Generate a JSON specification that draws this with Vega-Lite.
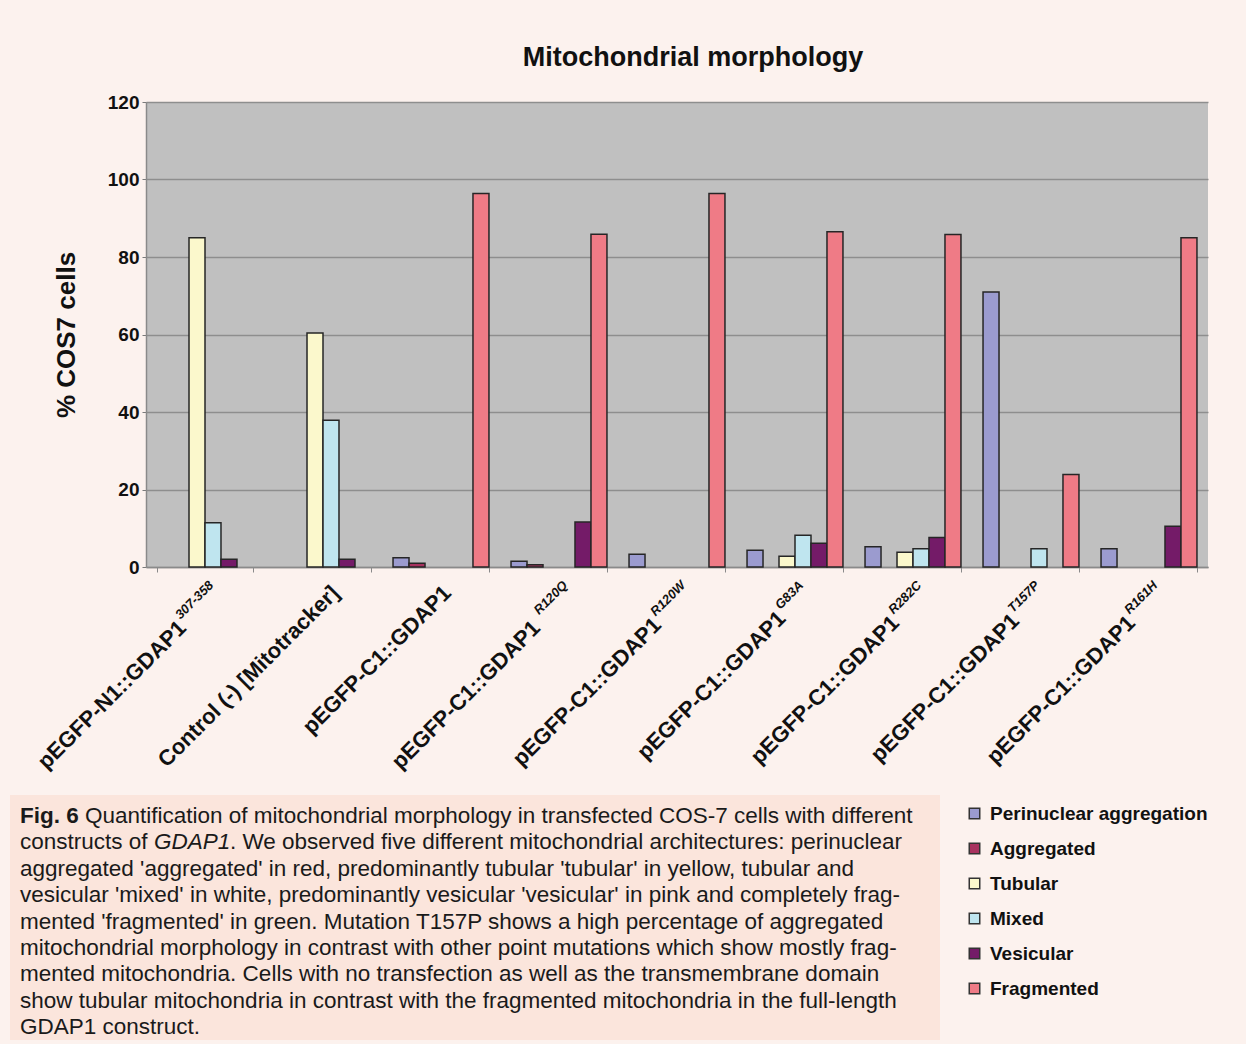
{
  "$schema": "https://vega.github.io/schema/vega-lite/v6.json",
  "background": "#fcf2ee",
  "padding": {"left": 10, "top": 44, "right": 38, "bottom": 4},
  "config": {
    "view": {"stroke": null},
    "font": "Liberation Sans",
    "axis": {"labelFont": "Liberation Sans", "titleFont": "Liberation Sans"},
    "legend": {"labelFont": "Liberation Sans"}
  },
  "datasets": {
    "bars": [
      {"construct": "pEGFP-N1::GDAP1|307-358", "morphology": "Tubular", "percent": 85.0},
      {"construct": "pEGFP-N1::GDAP1|307-358", "morphology": "Mixed", "percent": 11.4},
      {"construct": "pEGFP-N1::GDAP1|307-358", "morphology": "Vesicular", "percent": 2.0},
      {"construct": "Control (-) [Mitotracker]", "morphology": "Tubular", "percent": 60.4},
      {"construct": "Control (-) [Mitotracker]", "morphology": "Mixed", "percent": 37.9},
      {"construct": "Control (-) [Mitotracker]", "morphology": "Vesicular", "percent": 2.0},
      {"construct": "pEGFP-C1::GDAP1", "morphology": "Perinuclear aggregation", "percent": 2.4},
      {"construct": "pEGFP-C1::GDAP1", "morphology": "Aggregated", "percent": 1.0},
      {"construct": "pEGFP-C1::GDAP1", "morphology": "Fragmented", "percent": 96.4},
      {"construct": "pEGFP-C1::GDAP1|R120Q", "morphology": "Perinuclear aggregation", "percent": 1.5},
      {"construct": "pEGFP-C1::GDAP1|R120Q", "morphology": "Aggregated", "percent": 0.6},
      {"construct": "pEGFP-C1::GDAP1|R120Q", "morphology": "Vesicular", "percent": 11.6},
      {"construct": "pEGFP-C1::GDAP1|R120Q", "morphology": "Fragmented", "percent": 85.9},
      {"construct": "pEGFP-C1::GDAP1|R120W", "morphology": "Perinuclear aggregation", "percent": 3.3},
      {"construct": "pEGFP-C1::GDAP1|R120W", "morphology": "Fragmented", "percent": 96.4},
      {"construct": "pEGFP-C1::GDAP1|G83A", "morphology": "Perinuclear aggregation", "percent": 4.3},
      {"construct": "pEGFP-C1::GDAP1|G83A", "morphology": "Tubular", "percent": 2.8},
      {"construct": "pEGFP-C1::GDAP1|G83A", "morphology": "Mixed", "percent": 8.2},
      {"construct": "pEGFP-C1::GDAP1|G83A", "morphology": "Vesicular", "percent": 6.1},
      {"construct": "pEGFP-C1::GDAP1|G83A", "morphology": "Fragmented", "percent": 86.5},
      {"construct": "pEGFP-C1::GDAP1|R282C", "morphology": "Perinuclear aggregation", "percent": 5.2},
      {"construct": "pEGFP-C1::GDAP1|R282C", "morphology": "Tubular", "percent": 3.8},
      {"construct": "pEGFP-C1::GDAP1|R282C", "morphology": "Mixed", "percent": 4.7},
      {"construct": "pEGFP-C1::GDAP1|R282C", "morphology": "Vesicular", "percent": 7.6},
      {"construct": "pEGFP-C1::GDAP1|R282C", "morphology": "Fragmented", "percent": 85.8},
      {"construct": "pEGFP-C1::GDAP1|T157P", "morphology": "Perinuclear aggregation", "percent": 71.0},
      {"construct": "pEGFP-C1::GDAP1|T157P", "morphology": "Mixed", "percent": 4.7},
      {"construct": "pEGFP-C1::GDAP1|T157P", "morphology": "Fragmented", "percent": 23.9},
      {"construct": "pEGFP-C1::GDAP1|R161H", "morphology": "Perinuclear aggregation", "percent": 4.7},
      {"construct": "pEGFP-C1::GDAP1|R161H", "morphology": "Vesicular", "percent": 10.5},
      {"construct": "pEGFP-C1::GDAP1|R161H", "morphology": "Fragmented", "percent": 85.0}
    ],
    "superscripts": [
      {"construct": "pEGFP-N1::GDAP1|307-358", "sup": "307-358"},
      {"construct": "pEGFP-C1::GDAP1|R120Q", "sup": "R120Q"},
      {"construct": "pEGFP-C1::GDAP1|R120W", "sup": "R120W"},
      {"construct": "pEGFP-C1::GDAP1|G83A", "sup": "G83A"},
      {"construct": "pEGFP-C1::GDAP1|R282C", "sup": "R282C"},
      {"construct": "pEGFP-C1::GDAP1|T157P", "sup": "T157P"},
      {"construct": "pEGFP-C1::GDAP1|R161H", "sup": "R161H"}
    ],
    "caption": [
      {"line": 1, "seg": "bold", "text": "Fig. 6"},
      {"line": 1, "seg": "afterbold", "text": "Quantification of mitochondrial morphology in transfected COS-7 cells with different"},
      {"line": 2, "seg": "plain", "text": "constructs of"},
      {"line": 2, "seg": "italic", "text": "GDAP1"},
      {"line": 2, "seg": "afteritalic", "text": ". We observed five different mitochondrial architectures: perinuclear"},
      {"line": 3, "seg": "plain", "text": "aggregated 'aggregated' in red, predominantly tubular 'tubular' in yellow, tubular and"},
      {"line": 4, "seg": "plain", "text": "vesicular 'mixed' in white, predominantly vesicular 'vesicular' in pink and completely frag-"},
      {"line": 5, "seg": "plain", "text": "mented 'fragmented' in green. Mutation T157P shows a high percentage of aggregated"},
      {"line": 6, "seg": "plain", "text": "mitochondrial morphology in contrast with other point mutations which show mostly frag-"},
      {"line": 7, "seg": "plain", "text": "mented mitochondria. Cells with no transfection as well as the transmembrane domain"},
      {"line": 8, "seg": "plain", "text": "show tubular mitochondria in contrast with the fragmented mitochondria in the full-length"},
      {"line": 9, "seg": "plain", "text": "GDAP1 construct."}
    ]
  },
  "align": "none",
  "spacing": 22,
  "vconcat": [
    {
      "align": "none",
      "spacing": 22,
      "hconcat": [
        {"width": 1, "height": 1, "data": {"values": []}, "mark": "point"},
        {
          "width": 1062,
          "height": 465,
          "view": {"fill": "#c0c0c0", "stroke": null},
          "title": {"text": "Mitochondrial morphology", "fontSize": 27, "fontWeight": "bold", "font": "Liberation Sans", "color": "#111111", "offset": 21, "dx": 16},
          "layer": [
            {
              "data": {"name": "bars"},
              "mark": {"type": "bar", "stroke": "#262626", "strokeWidth": 1.5},
              "encoding": {
                "x": {
                  "field": "construct", "type": "nominal",
                  "sort": ["pEGFP-N1::GDAP1|307-358", "Control (-) [Mitotracker]", "pEGFP-C1::GDAP1", "pEGFP-C1::GDAP1|R120Q", "pEGFP-C1::GDAP1|R120W", "pEGFP-C1::GDAP1|G83A", "pEGFP-C1::GDAP1|R282C", "pEGFP-C1::GDAP1|T157P", "pEGFP-C1::GDAP1|R161H"],
                  "scale": {"paddingInner": 0.187, "paddingOuter": 0.0935},
                  "axis": {
                    "title": null,
                    "labelExpr": "split(datum.label, '|')[0]",
                    "labelAngle": -45,
                    "labelAlign": "right",
                    "labelBaseline": "middle",
                    "labelFontSize": 22,
                    "labelFontWeight": "bold",
                    "labelColor": "#111111",
                    "labelLimit": 400,
                    "labelOverlap": false,
                    "labelBound": false,
                    "labelFlush": false,
                    "labelOffset": {"condition": [
                      {"test": "datum.value === 'pEGFP-N1::GDAP1|307-358'", "value": -23},
                      {"test": "datum.value === 'pEGFP-C1::GDAP1|R120Q'", "value": -23},
                      {"test": "datum.value === 'pEGFP-C1::GDAP1|R120W'", "value": -20},
                      {"test": "datum.value === 'pEGFP-C1::GDAP1|G83A'", "value": -13.5},
                      {"test": "datum.value === 'pEGFP-C1::GDAP1|R282C'", "value": -18},
                      {"test": "datum.value === 'pEGFP-C1::GDAP1|T157P'", "value": -16},
                      {"test": "datum.value === 'pEGFP-C1::GDAP1|R161H'", "value": -18},
                      {"test": "datum.value === 'pEGFP-C1::GDAP1'", "value": 6}
                    ], "value": 12},
                    "labelPadding": {"condition": [
                      {"test": "datum.value === 'pEGFP-N1::GDAP1|307-358'", "value": 52},
                      {"test": "datum.value === 'pEGFP-C1::GDAP1|R120Q'", "value": 52},
                      {"test": "datum.value === 'pEGFP-C1::GDAP1|R120W'", "value": 49},
                      {"test": "datum.value === 'pEGFP-C1::GDAP1|G83A'", "value": 42.5},
                      {"test": "datum.value === 'pEGFP-C1::GDAP1|R282C'", "value": 47},
                      {"test": "datum.value === 'pEGFP-C1::GDAP1|T157P'", "value": 45},
                      {"test": "datum.value === 'pEGFP-C1::GDAP1|R161H'", "value": 47}
                    ], "value": 17},
                    "tickBand": "extent",
                    "tickSize": 5,
                    "tickColor": "#8a8a8a",
                    "domainColor": "#8a8a8a",
                    "domainWidth": 1.5,
                    "grid": false
                  }
                },
                "xOffset": {
                  "field": "morphology", "type": "nominal",
                  "sort": ["Perinuclear aggregation", "Aggregated", "Tubular", "Mixed", "Vesicular", "Fragmented"],
                  "scale": {"paddingInner": 0, "paddingOuter": 0}
                },
                "y": {
                  "field": "percent", "type": "quantitative",
                  "scale": {"domain": [0, 120], "nice": false},
                  "axis": {
                    "values": [0, 20, 40, 60, 80, 100, 120],
                    "title": "% COS7 cells",
                    "titleFontSize": 26,
                    "titleFontWeight": "bold",
                    "titleColor": "#111111",
                    "titlePadding": 28,
                    "labelFontSize": 19,
                    "labelFontWeight": "bold",
                    "labelColor": "#111111",
                    "labelPadding": 3,
                    "tickSize": 4,
                    "tickColor": "#7a7a7a",
                    "domainColor": "#8a8a8a",
                    "domainWidth": 1.5,
                    "grid": true,
                    "gridColor": "#8e8e8e",
                    "gridWidth": 1.6
                  }
                },
                "color": {
                  "field": "morphology", "type": "nominal",
                  "scale": {
                    "domain": ["Perinuclear aggregation", "Aggregated", "Tubular", "Mixed", "Vesicular", "Fragmented"],
                    "range": ["#9b9bcf", "#a8325f", "#fbf8cc", "#bfe5ef", "#741b68", "#ef7b86"]
                  },
                  "legend": {
                    "orient": "none",
                    "legendX": 955,
                    "legendY": 702,
                    "title": null,
                    "symbolType": "square",
                    "symbolSize": 110,
                    "symbolStrokeColor": "#333333",
                    "symbolStrokeWidth": 1.5,
                    "symbolOpacity": 1,
                    "labelFontSize": 19,
                    "labelFontWeight": "bold",
                    "labelColor": "#111111",
                    "labelOffset": 6,
                    "labelLimit": 320,
                    "rowPadding": 15
                  }
                }
              }
            },
            {
              "data": {"name": "superscripts"},
              "mark": {"type": "text", "angle": -45, "align": "right", "baseline": "middle", "dx": -7, "dy": 16, "fontSize": 13, "fontWeight": "bold", "fontStyle": "italic", "font": "Liberation Sans", "color": "#111111"},
              "encoding": {
                "x": {"field": "construct", "type": "nominal", "sort": ["pEGFP-N1::GDAP1|307-358", "Control (-) [Mitotracker]", "pEGFP-C1::GDAP1", "pEGFP-C1::GDAP1|R120Q", "pEGFP-C1::GDAP1|R120W", "pEGFP-C1::GDAP1|G83A", "pEGFP-C1::GDAP1|R282C", "pEGFP-C1::GDAP1|T157P", "pEGFP-C1::GDAP1|R161H"]},
                "y": {"datum": 0, "type": "quantitative"},
                "text": {"field": "sup"}
              }
            }
          ]
        }
      ]
    },
    {
      "width": 930,
      "height": 245,
      "view": {"fill": "#fbe5dc", "stroke": null},
      "data": {"name": "caption"},
      "encoding": {
        "x": {"datum": 0, "type": "quantitative", "scale": {"domain": [0, 1]}, "axis": null},
        "y": {"field": "line", "type": "quantitative", "scale": {"domain": [0.2, 9.49], "reverse": true, "nice": false, "zero": false}, "axis": null},
        "text": {"field": "text"}
      },
      "layer": [
        {"transform": [{"filter": "datum.seg === 'plain'"}], "mark": {"type": "text", "align": "left", "baseline": "middle", "dx": 10, "fontSize": 22.5, "font": "Liberation Sans", "color": "#1a1a1a"}},
        {"transform": [{"filter": "datum.seg === 'bold'"}], "mark": {"type": "text", "align": "left", "baseline": "middle", "dx": 10, "fontSize": 22.5, "fontWeight": "bold", "font": "Liberation Sans", "color": "#1a1a1a"}},
        {"transform": [{"filter": "datum.seg === 'afterbold'"}], "mark": {"type": "text", "align": "left", "baseline": "middle", "dx": 75, "fontSize": 22.5, "font": "Liberation Sans", "color": "#1a1a1a"}},
        {"transform": [{"filter": "datum.seg === 'italic'"}], "mark": {"type": "text", "align": "left", "baseline": "middle", "dx": 144, "fontSize": 22.5, "fontStyle": "italic", "font": "Liberation Sans", "color": "#1a1a1a"}},
        {"transform": [{"filter": "datum.seg === 'afteritalic'"}], "mark": {"type": "text", "align": "left", "baseline": "middle", "dx": 220, "fontSize": 22.5, "font": "Liberation Sans", "color": "#1a1a1a"}}
      ]
    }
  ]
}
